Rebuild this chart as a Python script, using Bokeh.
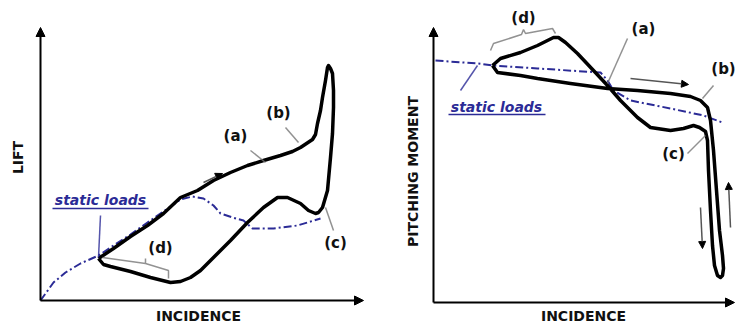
from bokeh.plotting import figure
from bokeh.models import Range1d, Arrow, NormalHead
from bokeh.core.properties import value
from bokeh.embed import file_html
from bokeh.resources import INLINE
import math

# ---- schematic data (page-like coordinates, y grows downward) ----
# Left panel: lift hysteresis loop (upper branch out, stall peak, lower branch back)
lift_x = [98, 113, 130, 147, 163, 180, 197, 213, 230, 247, 263, 280, 292, 300, 306, 312, 315, 317, 320, 322, 325, 327, 328, 330, 332, 333, 333, 332, 330, 327, 322, 318, 315, 308, 300, 287, 277, 263, 247, 230, 213, 200, 190, 180, 170, 150, 130, 110, 103, 98]
lift_y = [258, 248, 236, 225, 213, 197, 190, 180, 172, 165, 160, 155, 151, 147, 143, 139, 134, 123, 110, 97, 80, 67, 65, 68, 73, 90, 107, 133, 157, 190, 207, 212, 213, 210, 203, 197, 197, 207, 222, 240, 257, 270, 277, 281, 282, 277, 271, 266, 264, 258]
lift_static_x = [40, 53, 65, 80, 98, 113, 130, 147, 163, 180, 192, 203, 213, 220, 232, 243, 252, 273, 297, 320]
lift_static_y = [300, 282, 272, 263, 255, 245, 234, 222, 211, 199, 196, 198, 205, 213, 217, 220, 228, 228, 225, 218]

# Right panel: pitching moment hysteresis loop
pm_x = [492, 497, 520, 537, 570, 607, 637, 670, 690, 700, 707, 710, 713, 716, 719, 722, 723, 722, 720, 717, 714, 712, 710, 708, 707, 705, 699, 693, 683, 670, 650, 637, 620, 607, 593, 577, 565, 558, 553, 537, 520, 500, 492]
pm_y = [65, 72, 75, 78, 83, 88, 90, 93, 96, 100, 107, 120, 150, 190, 230, 255, 268, 275, 277, 275, 265, 245, 210, 170, 140, 131, 127, 125, 128, 130, 127, 117, 100, 85, 70, 53, 42, 37, 37, 45, 52, 58, 65]
pm_static_x = [435, 477, 493, 537, 600, 607, 613, 630, 670, 703, 722]
pm_static_y = [60, 63, 65, 68, 72, 80, 90, 100, 108, 115, 122]

BLUE = "#2b2b96"
W, H = 737, 324
p = figure(width=W, height=H, x_range=Range1d(0, W), y_range=Range1d(H, 0),
           output_backend="svg", toolbar_location=None, min_border=0)
p.axis.visible = False
p.grid.visible = False
p.outline_line_color = None

FONT = value("DejaVu Sans")

# axes with arrowheads
for (x0, y0, x1, y1) in [(40, 300, 40, 27), (40, 300, 363, 300),
                         (433, 302, 433, 27), (433, 302, 734, 302)]:
    p.add_layout(Arrow(end=NormalHead(size=9, fill_color="black", line_color="black"),
                       x_start=x0, y_start=y0, x_end=x1, y_end=y1,
                       line_width=2, line_color="black"))

# static loads (blue dash-dot)
p.line(lift_static_x, lift_static_y, line_color=BLUE, line_width=2, line_dash="8 3 2 3")
p.line(pm_static_x, pm_static_y, line_color=BLUE, line_width=2, line_dash="8 3 2 3")

# dynamic loops
p.line(lift_x, lift_y, line_color="black", line_width=3.5, line_join="round")
p.line(pm_x, pm_y, line_color="black", line_width=3.5, line_join="round")

# leader lines
GRAY = "#777777"
leaders = [
    ([250, 265], [150, 162], GRAY),          # (a) left
    ([285, 298], [127, 142], GRAY),          # (b) left
    ([333, 325], [230, 207], GRAY),          # (c) left
    ([102, 145, 145, 145, 168, 168], [257, 263, 258, 263, 270, 278], GRAY),  # (d) left
    ([100, 98], [215, 257], BLUE),           # static loads left
    ([627, 607], [38, 83], GRAY),            # (a) right
    ([713, 702], [85, 98], GRAY),            # (b) right
    ([687, 705], [153, 135], GRAY),          # (c) right
    ([490, 493, 521, 523, 525, 552, 555], [50, 43, 34, 29, 33, 28, 33], GRAY),  # (d) right
    ([460, 477], [90, 65], BLUE),            # static loads right
]
for xs, ys, lc in leaders:
    p.line(xs, ys, line_color=lc, line_width=1.5, line_alpha=0.8)

# direction arrows
for (x0, y0, x1, y1) in [(203, 182, 222, 173), (630, 78, 688, 84),
                         (700, 207, 702, 248), (730, 227, 728, 182)]:
    p.add_layout(Arrow(end=NormalHead(size=7, fill_color="black", line_color="black"),
                       x_start=x0, y_start=y0, x_end=x1, y_end=y1,
                       line_width=1.5, line_color="#555555"))

# letter labels
lab_x = [235, 278, 335, 160, 523, 643, 723, 673]
lab_y = [135, 112, 242, 247, 17, 28, 68, 153]
lab_t = ["(a)", "(b)", "(c)", "(d)", "(d)", "(a)", "(b)", "(c)"]
p.text(lab_x, lab_y, text=lab_t, text_font=FONT, text_font_size="15px",
       text_font_style="bold", text_align="center", text_baseline="middle", text_color="#111111")

# static loads text
p.text([100, 496], [199, 106], text=["static loads", "static loads"], text_font=FONT,
       text_font_size="14px", text_font_style="bold italic", text_align="center",
       text_baseline="middle", text_color=BLUE)
p.line([52, 148], [208, 208], line_color=BLUE, line_width=1.5)
p.line([448, 545], [114, 114], line_color=BLUE, line_width=1.5)

# axis titles
p.text([198, 583], [315, 315], text=["INCIDENCE", "INCIDENCE"], text_font=FONT,
       text_font_size="14px", text_font_style="bold", text_align="center",
       text_baseline="middle", text_color="#111111")
p.text([17], [157], text=["LIFT"], angle=math.pi / 2, text_font=FONT,
       text_font_size="14px", text_font_style="bold", text_align="center",
       text_baseline="middle", text_color="#111111")
p.text([412], [171], text=["PITCHING MOMENT"], angle=math.pi / 2, text_font=FONT,
       text_font_size="14px", text_font_style="bold", text_align="center",
       text_baseline="middle", text_color="#111111")

open("out.html", "w").write(file_html(p, INLINE))
